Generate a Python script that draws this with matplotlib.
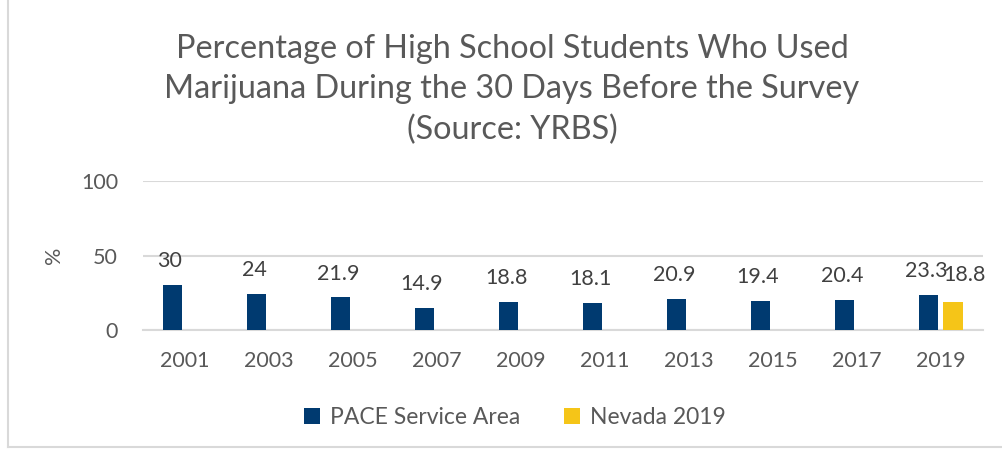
import numpy as np
import matplotlib.pyplot as plt
from matplotlib.lines import Line2D

# data
years = ['2001', '2003', '2005', '2007', '2009', '2011', '2013', '2015', '2017', '2019']
pace = [30, 24, 21.9, 14.9, 18.8, 18.1, 20.9, 19.4, 20.4, 23.3]
nevada = [None, None, None, None, None, None, None, None, None, 18.8]

navy = '#003A70'
gold = '#F5C518'
txt = '#595959'
grid = '#D9D9D9'

plt.rcParams['font.family'] = ['Lato', 'DejaVu Sans']

fig = plt.figure(figsize=(10.02, 4.53), dpi=100)
ax = fig.add_axes([0.1427, 0.2715, 0.8383, 0.3285])

x = np.arange(len(years))
w = 0.23
off = 0.145

bars1 = ax.bar(x - off, pace, w, color=navy, label='PACE Service Area', zorder=3)
nv_x = [x[i] + off for i in range(len(years)) if nevada[i] is not None]
nv_v = [v for v in nevada if v is not None]
bars2 = ax.bar(nv_x, nv_v, w, color=gold, label='Nevada 2019', zorder=3)

for b, v in zip(bars1, pace):
    ax.annotate(f'{v:g}', (b.get_x() + b.get_width() / 2, v), xytext=(-2, 10),
                textcoords='offset points', ha='center', va='bottom',
                fontsize=15.5, color='#404040')
for b, v in zip(bars2, nv_v):
    ax.annotate(f'{v:g}', (b.get_x() + b.get_width() / 2, v), xytext=(8.5, 12),
                textcoords='offset points', ha='center', va='bottom',
                fontsize=15.5, color='#404040')

ax.set_xlim(-0.5, len(years) - 0.5)
ax.set_ylim(0, 100)
ax.set_yticks([0, 50, 100])
ax.set_xticks(x)
ax.set_xticklabels(years)
ax.tick_params(axis='both', length=0, labelsize=15.5, labelcolor=txt)
ax.tick_params(axis='y', pad=18)
ax.tick_params(axis='x', pad=15)
ax.yaxis.grid(True, color=grid, linewidth=1.5, zorder=0)
for s in ['top', 'right', 'left']:
    ax.spines[s].set_visible(False)
ax.spines['bottom'].set_color(grid)
ax.spines['bottom'].set_linewidth(1.5)
ax.set_ylabel('%', fontsize=15.5, color=txt, labelpad=12)

fig.text(0.511, 0.925, 'Percentage of High School Students Who Used\n'
         'Marijuana During the 30 Days Before the Survey\n(Source: YRBS)',
         ha='center', va='top', fontsize=23.3, color=txt, linespacing=1.42)

fig.legend(handles=[bars1, bars2], loc='center', bbox_to_anchor=(0.514, 0.078),
           ncol=2, frameon=False, fontsize=16.5, labelcolor=txt,
           handlelength=0.7, handleheight=0.7, handletextpad=0.45, columnspacing=1.9)

# light frame around the chart area
fig.add_artist(Line2D([0.008, 0.008], [0.013, 1.0], color=grid, linewidth=1.5))
fig.add_artist(Line2D([0.008, 1.0], [0.013, 0.013], color=grid, linewidth=1.5))

fig.savefig('out.png', dpi=100)
